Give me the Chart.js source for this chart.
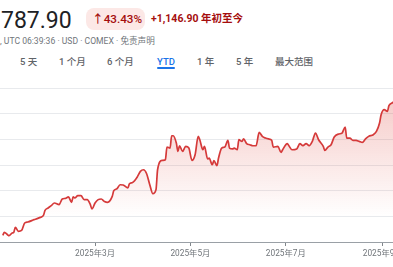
<!DOCTYPE html>
<html>
<head>
<meta charset="utf-8">
<script src="https://cdn.jsdelivr.net/npm/chart.js@4.4.1/dist/chart.umd.min.js"></script>
<style>
  body { margin: 0; width: 393px; height: 267px; overflow: hidden; background: #fff; position: relative;
         font-family: Roboto, "Noto Sans CJK SC", sans-serif; }
  .t { position: absolute; white-space: nowrap; }
  #price { left: 1px; top: 8.7px; font-size: 23px; line-height: 23px; color: #202124; }
  #pill { left: 86px; top: 8px; width: 59px; height: 22px; border-radius: 8px; background: #fce8e6; }
  #pct { left: 92px; top: 13.5px; font-size: 11.7px; line-height: 11.7px; color: #a50e0e; font-weight: 500; }
  #chg { left: 151px; top: 13.9px; font-size: 10.5px; line-height: 10.5px; color: #a50e0e; font-weight: 700; }
  #meta { left: 0; top: 36.8px; font-size: 8.6px; line-height: 8.6px; color: #70757a; }
  .tab { top: 56.5px; font-size: 9.5px; line-height: 9.5px; color: #5f6368; font-weight: 500; }
  .tab.on { color: #1a73e8; }
  #bar { left: 157px; top: 67px; width: 18px; height: 2px; background: #1a73e8; border-radius: 1px; }
  #wrap { position: absolute; left: 0; top: 80px; width: 393px; height: 187px; }
</style>
</head>
<body>
<div class="t" id="price">787.90</div>
<div class="t" id="pill"></div>
<div class="t" id="pct">↑43.43%</div>
<div class="t" id="chg">+1,146.90 年初至今</div>
<div class="t" id="meta">, UTC 06:39:36 · USD · COMEX · 免责声明</div>
<div class="t tab" style="left:20px">5 天</div>
<div class="t tab" style="left:59px">1 个月</div>
<div class="t tab" style="left:107px">6 个月</div>
<div class="t tab on" style="left:157px">YTD</div>
<div class="t tab" style="left:197px">1 年</div>
<div class="t tab" style="left:236px">5 年</div>
<div class="t tab" style="left:275px">最大范围</div>
<div class="t" id="bar"></div>
<div id="wrap"><canvas id="chart" width="393" height="187"></canvas></div>

<script>
// days since 1 Jan 2025, gold futures price (USD)
const days = [0, 1, 3, 4, 6, 7, 8, 10, 12, 14, 16, 20, 22, 24, 26, 27, 29, 31, 33, 36,
    38, 40, 42, 44, 45, 46, 48, 50, 52, 54, 56, 57, 59, 61, 63, 65, 67, 70, 71, 73,
    75, 77, 80, 81, 83, 86, 88, 90, 92, 94, 96, 98, 99, 102, 104, 105, 107, 108, 109, 111,
    112, 113, 115, 117, 119, 121, 123, 125, 126, 128, 129, 131, 132, 134, 135, 137, 138, 140, 142, 144,
    145, 147, 148, 150, 151, 153, 154, 156, 158, 160, 162, 164, 166, 168, 170, 172, 173, 176, 178, 179,
    182, 183, 185, 188, 190, 192, 194, 196, 198, 200, 202, 205, 206, 208, 210, 212, 215, 217, 219, 220,
    222, 224, 226, 228, 230, 232, 234, 237, 239, 241, 242, 244, 246, 247, 249, 250];
const prices = [2652, 2675, 2657, 2649, 2670, 2675, 2714, 2683, 2690, 2748, 2756, 2774, 2782, 2792, 2807, 2846, 2865, 2883, 2904, 2891,
    2935, 2940, 2951, 2909, 2951, 2943, 2961, 2961, 2930, 2930, 2891, 2857, 2904, 2930, 2935, 2916, 2909, 2955, 3000, 3015,
    3046, 3044, 3021, 3054, 3064, 3107, 3150, 3163, 3132, 3046, 2976, 3008, 3163, 3236, 3241, 3340, 3332, 3428, 3428, 3371,
    3306, 3350, 3306, 3345, 3332, 3236, 3280, 3423, 3397, 3319, 3345, 3247, 3254, 3202, 3234, 3195, 3254, 3332, 3340, 3392,
    3332, 3325, 3332, 3319, 3397, 3384, 3403, 3366, 3358, 3350, 3350, 3454, 3423, 3410, 3403, 3392, 3340, 3345, 3298, 3319,
    3366, 3350, 3319, 3325, 3366, 3350, 3366, 3350, 3384, 3449, 3397, 3345, 3314, 3340, 3358, 3418, 3442, 3449, 3496, 3410,
    3410, 3392, 3392, 3384, 3376, 3403, 3423, 3436, 3462, 3527, 3592, 3631, 3618, 3662, 3683, 3693];
const tickDays = [59, 120, 181, 243];
const tickLabels = ['2025年3月', '2025年5月', '2025年7月', '2025年9月'];

const font = 'Roboto, "Noto Sans CJK SC", sans-serif';

new Chart(document.getElementById('chart'), {
    type: 'line',
    data: {
        datasets: [{
            data: days.map((d, i) => ({x: d, y: prices[i]})),
            borderColor: '#d53a3a',
            borderWidth: 1.7,
            pointRadius: 0,
            cubicInterpolationMode: 'monotone',
            fill: 'start',
            backgroundColor: function (ctx) {
                const area = ctx.chart.chartArea;
                if (!area) return 'rgba(217,48,37,0.1)';
                const g = ctx.chart.ctx.createLinearGradient(0, area.top + 15, 0, area.bottom - 25);
                g.addColorStop(0, 'rgba(217,48,37,0.24)');
                g.addColorStop(1, 'rgba(217,48,37,0)');
                return g;
            }
        }]
    },
    options: {
        responsive: false,
        animation: false,
        devicePixelRatio: 1,
        layout: {padding: {top: 8, left: 0, right: 0, bottom: 0}},
        plugins: {legend: {display: false}, tooltip: {enabled: false}},
        scales: {
            x: {
                type: 'linear',
                min: -1.8,
                max: 249.6,
                afterBuildTicks: s => { s.ticks = tickDays.map(v => ({value: v})); },
                afterFit: s => { s.height = 25; s.paddingLeft = 0; s.paddingRight = 0; },
                ticks: {
                    autoSkip: false,
                    maxRotation: 0,
                    padding: 3,
                    color: '#70757a',
                    font: {family: font, size: 8.3},
                    callback: v => tickLabels[tickDays.indexOf(v)]
                },
                grid: {drawOnChartArea: false, drawTicks: true, tickLength: 4, tickColor: '#80868b'},
                border: {color: '#9aa0a6', width: 1}
            },
            y: {
                min: 2600,
                max: 3800,
                afterFit: s => { s.width = 0; s.paddingTop = 0; s.paddingBottom = 0; },
                ticks: {display: false, stepSize: 200},
                grid: {color: '#e8eaed', drawTicks: false},
                border: {display: false}
            }
        }
    }
});
</script>
</body>
</html>
